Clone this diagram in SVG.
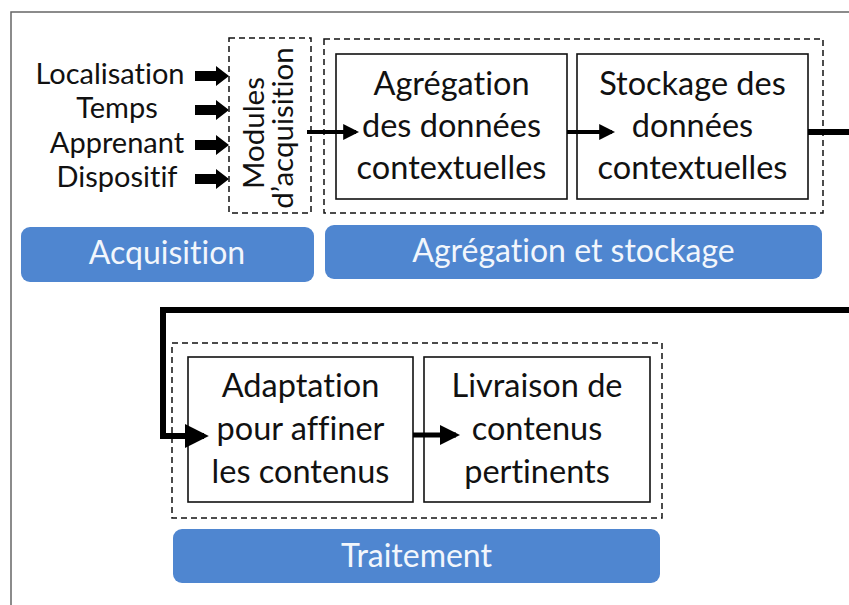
<svg xmlns="http://www.w3.org/2000/svg" width="849" height="605" viewBox="0 0 849 605">
<style>
text{font-variant-ligatures:none;font-feature-settings:"liga" 0}
.t{font-family:Lato,"Liberation Sans",sans-serif;fill:#111;text-anchor:middle}
.big{font-size:32.5px}
.lab{font-size:29px}
.mod{font-size:29.5px}
.bar{fill:#4F86D0}
.bt{font-family:Lato,"Liberation Sans",sans-serif;fill:#F2F6FC;text-anchor:middle;font-size:32px}
.dash{fill:none;stroke:#111;stroke-width:1.5;stroke-dasharray:6 4}
.box{fill:#fff;stroke:#111;stroke-width:1.6}
.blk{fill:#000}
</style>
<defs>
<marker id="ah" markerWidth="4" markerHeight="4" refX="3.2" refY="2" orient="auto" markerUnits="strokeWidth">
<path d="M0,0 L4,2 L0,4 Z" fill="#000"/>
</marker>
</defs>
<rect width="849" height="605" fill="#fff"/>
<path d="M11,605 V12 H849" fill="none" stroke="#666" stroke-width="1.5"/>

<g id="inputs">
<text class="t lab" x="110" y="84">Localisation</text>
<text class="t lab" x="117" y="118">Temps</text>
<text class="t lab" x="117" y="153">Apprenant</text>
<text class="t lab" x="117" y="187">Dispositif</text>
<path class="blk" d="M195,71 H216 V66 L229,76 L216,86 V81 H195 Z"/>
<path class="blk" d="M195,105 H216 V100 L229,110 L216,120 V115 H195 Z"/>
<path class="blk" d="M195,140 H216 V135 L229,145 L216,155 V150 H195 Z"/>
<path class="blk" d="M195,174 H216 V169 L229,179 L216,189 V184 H195 Z"/>
</g>

<g id="acquisition-modules">
<rect class="dash" x="229" y="38" width="82" height="175"/>
<text class="t mod" transform="translate(264,133) rotate(-90)">Modules</text>
<text class="t mod" transform="translate(293,128) rotate(-90)">d’acquisition</text>
</g>

<g id="aggregation-group">
<rect class="dash" x="324" y="39" width="499" height="174"/>
</g>

<g id="aggregation">
<rect class="box" x="336" y="54" width="231" height="145"/>
<text class="t big" x="451.5" y="95">Agrégation</text>
<text class="t big" x="451.5" y="137">des données</text>
<text class="t big" x="451.5" y="179">contextuelles</text>
</g>

<g id="stockage">
<rect class="box" x="577" y="54" width="231" height="145"/>
<text class="t big" x="692.5" y="95">Stockage des</text>
<text class="t big" x="692.5" y="137">données</text>
<text class="t big" x="692.5" y="179">contextuelles</text>
</g>

<g id="acquisition-label">
<rect class="bar" x="21" y="227" width="293" height="55" rx="9"/>
<text class="bt" x="167" y="264">Acquisition</text>
</g>

<g id="aggregation-label">
<rect class="bar" x="325" y="225" width="497" height="54" rx="9"/>
<text class="bt" x="573.5" y="262">Agrégation et stockage</text>
</g>

<g id="traitement-group">
<rect class="dash" x="172" y="343" width="490" height="175"/>
</g>

<g id="adaptation">
<rect class="box" x="188" y="357" width="225" height="145"/>
<text class="t big" x="300.5" y="397">Adaptation</text>
<text class="t big" x="300.5" y="440">pour affiner</text>
<text class="t big" x="300.5" y="483">les contenus</text>
</g>

<g id="livraison">
<rect class="box" x="424" y="357" width="226" height="145"/>
<text class="t big" x="537" y="397">Livraison de</text>
<text class="t big" x="537" y="440">contenus</text>
<text class="t big" x="537" y="483">pertinents</text>
</g>

<g id="traitement-label">
<rect class="bar" x="173" y="529" width="487" height="54" rx="9"/>
<text class="bt" x="416.5" y="567">Traitement</text>
</g>

<g id="connectors" fill="none" stroke="#000">
<path d="M307,132 H356" stroke-width="4" marker-end="url(#ah)"/>
<path d="M567,132 H612" stroke-width="4" marker-end="url(#ah)"/>
<path d="M808,132 H852 V310 H163 V436 H204" stroke-width="6" marker-end="url(#ah)" stroke-linejoin="miter"/>
<path d="M413,435 H456" stroke-width="5" marker-end="url(#ah)"/>
</g>
</svg>
